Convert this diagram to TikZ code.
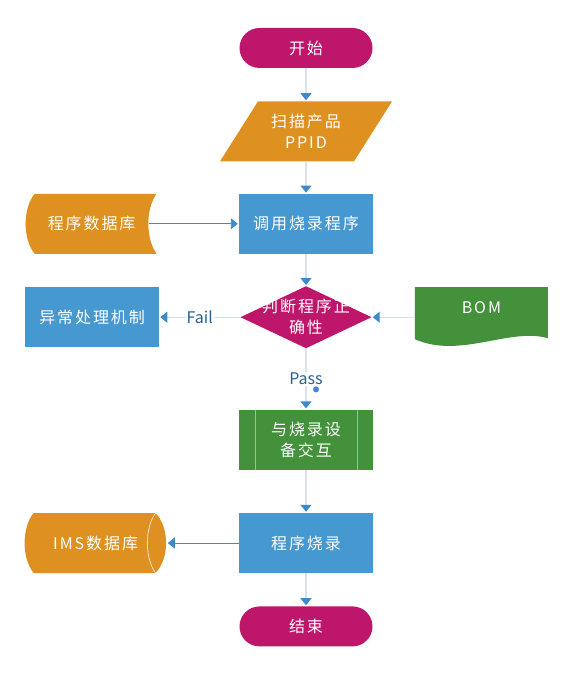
\documentclass[tikz,border=0pt]{standalone}
\usepackage{fontspec}
\setmainfont{Noto Sans CJK SC}[LetterSpace=12]
\newfontfamily\lblfont{Noto Sans CJK SC}
\usetikzlibrary{arrows.meta,positioning,calc}
\definecolor{fcmag}{RGB}{190,22,106}
\definecolor{fcorg}{RGB}{222,145,32}
\definecolor{fcblue}{RGB}{70,152,208}
\definecolor{fcgrn}{RGB}{67,145,58}
\definecolor{fcgrnlt}{RGB}{150,196,140}
\definecolor{fcorglt}{RGB}{246,226,190}
\definecolor{fcline}{RGB}{216,226,238}
\definecolor{fctip}{RGB}{60,138,202}
\definecolor{fclbl}{RGB}{40,96,152}
\definecolor{fcdot}{RGB}{74,128,230}
\tikzset{
  fcbox/.style={
    align=center, text=white, inner sep=2pt,
    font=\fontsize{16}{21}\selectfont,
    minimum width=134pt, minimum height=60pt
  },
  term/.style={fcbox, fill=fcmag, rounded corners=20pt, minimum width=133pt, minimum height=40pt},
  proc/.style={fcbox, fill=fcblue},
  iobox/.style={fcbox, minimum width=172pt,
    path picture={\fill[fcorg] ($(path picture bounding box.south west)+(38,60)$)
      -- ++(134,0) -- ++(-38,-60) -- ++(-134,0) -- cycle;}},
  dbbox/.style={fcbox, minimum width=132pt,
    path picture={\fill[fcorg] ($(path picture bounding box.south west)+(9,60)$)
      -- ++(122,0) .. controls +(-11,-15) and +(-11,15) .. ++(0,-60)
      -- ++(-122,0) .. controls +(-12,15) and +(-12,-15) .. ++(0,60) -- cycle;}},
  cylbox/.style={fcbox, minimum width=142pt,
    path picture={\fill[fcorg] ($(path picture bounding box.south west)+(9,60)$)
      -- ++(122,0) .. controls +(14,-15) and +(14,15) .. ++(0,-60)
      -- ++(-122,0) .. controls +(-12,15) and +(-12,-15) .. ++(0,60) -- cycle;
      \draw[fcorglt, line width=0.8pt] ($(path picture bounding box.south west)+(131,60)$)
      .. controls +(-11,-15) and +(-11,15) .. ++(0,-60);}},
  decide/.style={fcbox, minimum width=131pt, minimum height=62pt,
    path picture={\fill[fcmag] ($(path picture bounding box.south west)+(0,31)$)
      -- ++(65.5,31) -- ++(65.5,-31) -- ++(-65.5,-31) -- cycle;}},
  docbox/.style={fcbox, minimum width=133pt, text depth=20pt,
    path picture={\fill[fcgrn] ($(path picture bounding box.south west)+(0,60)$)
      -- ++(133,0) -- ++(0,-51) .. controls +(-38,11) and +(45,-20) .. ++(-133,-1) -- cycle;}},
  predef/.style={fcbox, fill=fcgrn,
    path picture={\draw[fcgrnlt, line width=0.9pt]
      ($(path picture bounding box.north west)+(16,0)$) -- ($(path picture bounding box.south west)+(16,0)$)
      ($(path picture bounding box.north east)+(-16,0)$) -- ($(path picture bounding box.south east)+(-16,0)$);}},
  arr/.style={draw=fcline, line width=1.2pt, -{Triangle[length=7pt,width=11pt,color=fctip]}, shorten >=1pt},
  barr/.style={arr, draw=fctip, line width=0.9pt},
  lbl/.style={fill=white, text=fclbl, inner sep=1pt, font=\lblfont\fontsize{16}{18}\selectfont},
  dotpt/.style={circle, fill=fcdot, inner sep=0pt, minimum size=6pt}
}
\begin{document}
\begin{tikzpicture}[x=1pt, y=1pt, node distance=32pt and 81pt]
  \useasboundingbox (0,0) rectangle (581,-679);
  \node[term] (start) at (306,-48) {开始};
  \node[iobox, below=33pt of start] (scan) {扫描产品\\PPID};
  \node[proc, below=of scan] (call) {调用烧录程序};
  \node[dbbox, left=of call] (db) {程序数据库};
  \node[decide, below=of call] (check) {判断程序正\\确性};
  \node[proc, left=of check] (err) {异常处理机制};
  \node[docbox, right=43pt of check] (bom) {BOM};
  \node[predef, below=61pt of check] (dev) {与烧录设\\备交互};
  \node[proc, below=43pt of dev] (burn) {程序烧录};
  \node[cylbox, left=72pt of burn] (ims) {IMS数据库};
  \node[term, below=33pt of burn] (finish) {结束};
  \node[dotpt] (passpt) at ($(check.south)+(10,-41)$) {};

  \draw[arr] (start) -- (scan);
  \draw[arr] (scan) -- (call);
  \draw[barr, shorten <=-9pt] (db) -- (call);
  \draw[arr] (call) -- (check);
  \draw[arr] (bom) -- (check);
  \draw[arr] (check) -- node[lbl] {Fail} (err);
  \draw[arr] (check) -- node[lbl] {Pass} (dev);
  \draw[arr] (dev) -- (burn);
  \draw[barr] (burn) -- (ims);
  \draw[arr] (burn) -- (finish);
\end{tikzpicture}
\end{document}
